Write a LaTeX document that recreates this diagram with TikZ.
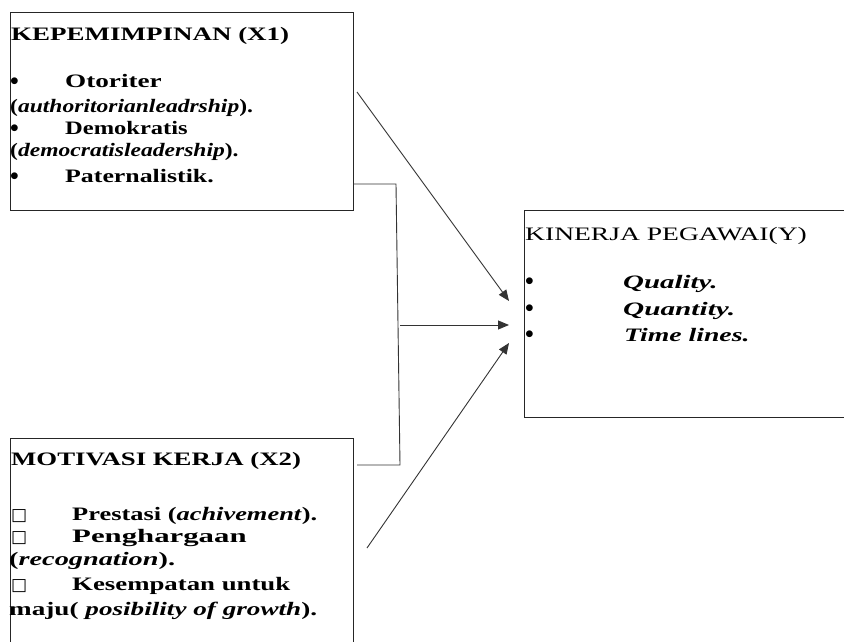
\documentclass[tikz,border=0pt]{standalone}
\usepackage{fontspec}
\setmainfont{Liberation Serif}
\newfontfamily\symfont{DejaVu Sans}
\usetikzlibrary{arrows.meta}
\newcommand{\hsx}[2]{\scalebox{#1}[1]{#2}}
\begin{document}
\begin{tikzpicture}[x=1pt,y=-1pt,
  box/.style={draw=black!85,line width=1.1pt,inner sep=0pt,anchor=north west},
  txt/.style={anchor=base west,inner sep=0pt,font=\fontsize{19}{24}\selectfont},
  bul/.style={anchor=base west,inner sep=0pt,font=\bfseries\fontsize{25}{24}\selectfont},
  sq/.style={anchor=base west,inner sep=0pt,font=\symfont\fontsize{17}{24}\selectfont},
  conn/.style={draw=black!80,line width=0.9pt},
  arr/.style={conn,-{Triangle[length=11pt,width=9pt]}}]
\useasboundingbox (0,0) rectangle (844,642);
\clip (0,0) rectangle (844,642);
% boxes
\node[box,minimum width=343pt,minimum height=198pt] (b1) at (10,12) {};
\node[box,minimum width=343pt,minimum height=230pt] (b2) at (10,438) {};
\node[box,minimum width=330pt,minimum height=207pt] (b3) at (524,210) {};
% box 1 text
\node[txt] (t1) at (11,41) {\hsx{1.42}{\textbf{KEPEMIMPINAN (X1)}}};
\node[bul] (t1a) at (10,90) {•};
\node[txt] (t1b) at (65,88) {\hsx{1.43}{\textbf{Otoriter}}};
\node[txt] (t1c) at (10,112) {\hsx{1.24}{\textbf{(\textit{authoritorianleadrship}).}}};
\node[bul] (t1d) at (10,136) {•};
\node[txt] (t1e) at (65,134) {\hsx{1.29}{\textbf{Demokratis}}};
\node[txt] (t1f) at (10,157) {\hsx{1.24}{\textbf{(\textit{democratisleadership}).}}};
\node[bul] (t1g) at (10,184) {•};
\node[txt] (t1h) at (65,182) {\hsx{1.36}{\textbf{Paternalistik.}}};
% box 2 text
\node[txt] (t2) at (11,465) {\hsx{1.41}{\textbf{MOTIVASI KERJA (X2)}}};
\node[sq] (t2a) at (11,520) {□};
\node[txt] (t2b) at (72,520) {\hsx{1.39}{\textbf{Prestasi (\textit{achivement}).}}};
\node[sq] (t2c) at (11,542) {□};
\node[txt] (t2d) at (72,542) {\hsx{1.62}{\textbf{Penghargaan}}};
\node[txt] (t2e) at (9,565) {\hsx{1.49}{\textbf{(\textit{recognation}).}}};
\node[sq] (t2f) at (11,590) {□};
\node[txt] (t2g) at (72,590) {\hsx{1.41}{\textbf{Kesempatan untuk}}};
\node[txt] (t2h) at (9,615) {\hsx{1.43}{\textbf{maju( \textit{posibility of growth}).}}};
% box 3 text
\node[txt] (t3) at (525,240) {\hsx{1.45}{KINERJA PEGAWAI(Y)}};
\node[bul] (t3a) at (525,289) {•};
\node[txt] (t3b) at (623,288) {\hsx{1.52}{\textbf{\textit{Quality.}}}};
\node[bul] (t3c) at (525,316) {•};
\node[txt] (t3d) at (623,315) {\hsx{1.54}{\textbf{\textit{Quantity.}}}};
\node[bul] (t3e) at (525,342) {•};
\node[txt] (t3f) at (624,341) {\hsx{1.46}{\textbf{\textit{Time lines.}}}};
% connectors
\coordinate (s1) at (357,92);
\coordinate (e1) at (509,301);
\coordinate (j1) at (353,184);
\coordinate (j2) at (396,184);
\coordinate (j3) at (400,465);
\coordinate (j4) at (357,465);
\coordinate (m1) at (400,325);
\coordinate (e2) at (509,325);
\coordinate (s3) at (367,548);
\coordinate (e3) at (509,343);
\draw[arr] (s1) -- (e1);
\draw[conn] (j1) -- (j2) -- (j3) -- (j4);
\draw[arr] (m1) -- (e2);
\draw[arr] (s3) -- (e3);
\end{tikzpicture}
\end{document}
